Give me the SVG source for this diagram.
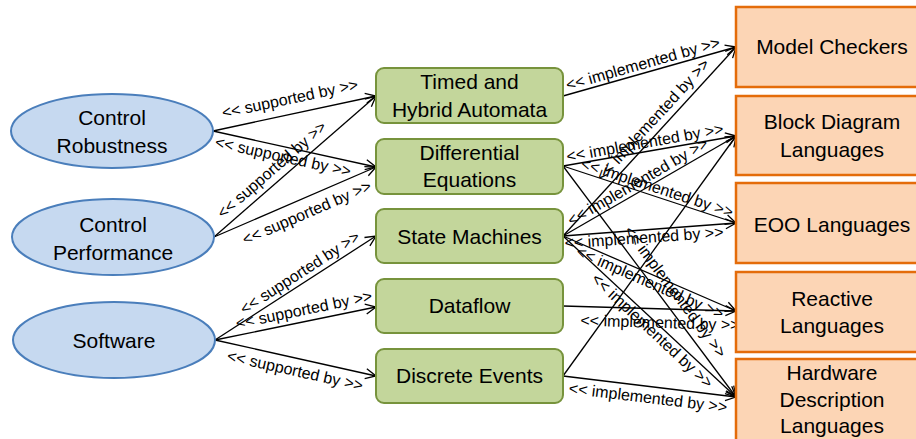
<svg xmlns="http://www.w3.org/2000/svg" width="916" height="439" viewBox="0 0 916 439">
<style>
.ell{fill:#c6d9f0;stroke:#4a7ebb;stroke-width:2}
.grn{fill:#c3d69b;stroke:#77933c;stroke-width:2}
.org{fill:#fcd5b5;stroke:#e46c0a;stroke-width:2.5}
.nt{font-family:"Liberation Sans",Arial,sans-serif;font-size:21px;fill:#000;text-anchor:middle}
.lb{font-family:"Liberation Sans",Arial,sans-serif;font-size:16px;fill:#000;text-anchor:middle}
.e{stroke:#000;stroke-width:1.3;fill:none;marker-end:url(#arr)}
</style>
<defs>
<marker id="arr" viewBox="0 0 12 12" refX="11.5" refY="6" markerWidth="12" markerHeight="12" markerUnits="userSpaceOnUse" orient="auto">
<path d="M1,1 L11.5,6 L1,11" fill="none" stroke="#000" stroke-width="1.3"/>
</marker>
</defs>
<rect width="916" height="439" fill="#fff"/>

<g id="connectors">
<line class="e" x1="213" y1="131" x2="376" y2="96"/>
<line class="e" x1="213" y1="131" x2="376" y2="167"/>
<line class="e" x1="214" y1="237" x2="376" y2="96"/>
<line class="e" x1="214" y1="237" x2="376" y2="167"/>
<line class="e" x1="215" y1="340" x2="376" y2="236"/>
<line class="e" x1="215" y1="340" x2="376" y2="307"/>
<line class="e" x1="215" y1="340" x2="376" y2="376"/>
<line class="e" x1="563" y1="96" x2="736" y2="47"/>
<line class="e" x1="563" y1="166" x2="736" y2="136"/>
<line class="e" x1="563" y1="166" x2="736" y2="223"/>
<line class="e" x1="563" y1="166" x2="736" y2="397"/>
<line class="e" x1="563" y1="236" x2="736" y2="47"/>
<line class="e" x1="563" y1="236" x2="736" y2="136"/>
<line class="e" x1="563" y1="236" x2="736" y2="223"/>
<line class="e" x1="563" y1="236" x2="736" y2="311"/>
<line class="e" x1="563" y1="236" x2="736" y2="397"/>
<line class="e" x1="563" y1="306" x2="736" y2="311"/>
<line class="e" x1="563" y1="376" x2="736" y2="136"/>
<line class="e" x1="563" y1="376" x2="736" y2="397"/>
<g class="lb">
<text transform="translate(290,99) rotate(-12)" y="5">&lt;&lt; supported by &gt;&gt;</text>
<text transform="translate(283,157) rotate(12.4)" y="5">&lt;&lt; supported by &gt;&gt;</text>
<text transform="translate(272,170) rotate(-41)" y="5">&lt;&lt; supported by &gt;&gt;</text>
<text transform="translate(307,213) rotate(-23.4)" y="5">&lt;&lt; supported by &gt;&gt;</text>
<text transform="translate(300,273) rotate(-32.9)" y="5">&lt;&lt; supported by &gt;&gt;</text>
<text transform="translate(304,310) rotate(-11.6)" y="5">&lt;&lt; supported by &gt;&gt;</text>
<text transform="translate(295,371) rotate(12.6)" y="5">&lt;&lt; supported by &gt;&gt;</text>
<text transform="translate(643,64) rotate(-15.8)" y="5">&lt;&lt; implemented by &gt;&gt;</text>
<text transform="translate(645,143) rotate(-10.2)" y="5">&lt;&lt; implemented by &gt;&gt;</text>
<text transform="translate(657,188) rotate(18.2)" y="5">&lt;&lt; implemented by &gt;&gt;</text>
<text transform="translate(675,292) rotate(53.2)" y="5">&lt;&lt; implemented by &gt;&gt;</text>
<text transform="translate(653,120) rotate(-47.4)" y="5">&lt;&lt; implemented by &gt;&gt;</text>
<text transform="translate(638,182) rotate(-30)" y="5">&lt;&lt; implemented by &gt;&gt;</text>
<text transform="translate(644,238) rotate(-4)" y="5">&lt;&lt; implemented by &gt;&gt;</text>
<text transform="translate(650,283) rotate(23.7)" y="5">&lt;&lt; implemented by &gt;&gt;</text>
<text transform="translate(652,331) rotate(43.1)" y="5">&lt;&lt; implemented by &gt;&gt;</text>
<text transform="translate(660,323) rotate(1.7)" y="5">&lt;&lt; implemented by &gt;&gt;</text>
<text transform="translate(648,398) rotate(6.9)" y="5">&lt;&lt; implemented by &gt;&gt;</text>
</g>
</g>

<g id="control-robustness">
<ellipse class="ell" cx="112" cy="131" rx="101" ry="37"/>
<text class="nt" x="112" y="125">Control</text>
<text class="nt" x="112" y="153">Robustness</text>
</g>
<g id="control-performance">
<ellipse class="ell" cx="113" cy="237" rx="101" ry="38"/>
<text class="nt" x="113" y="232">Control</text>
<text class="nt" x="113" y="260">Performance</text>
</g>
<g id="software">
<ellipse class="ell" cx="114" cy="340" rx="101" ry="38"/>
<text class="nt" x="114" y="348">Software</text>
</g>

<g id="timed-hybrid-automata">
<rect class="grn" x="376" y="68" width="187" height="55" rx="8"/>
<text class="nt" x="469.5" y="89">Timed and</text>
<text class="nt" x="469.5" y="117">Hybrid Automata</text>
</g>
<g id="differential-equations">
<rect class="grn" x="376" y="139" width="187" height="55" rx="8"/>
<text class="nt" x="469.5" y="160">Differential</text>
<text class="nt" x="469.5" y="187">Equations</text>
</g>
<g id="state-machines">
<rect class="grn" x="376" y="209" width="187" height="54" rx="8"/>
<text class="nt" x="469.5" y="244">State Machines</text>
</g>
<g id="dataflow">
<rect class="grn" x="376" y="279" width="187" height="54" rx="8"/>
<text class="nt" x="469.5" y="313">Dataflow</text>
</g>
<g id="discrete-events">
<rect class="grn" x="376" y="349" width="187" height="54" rx="8"/>
<text class="nt" x="469.5" y="383">Discrete Events</text>
</g>

<g id="model-checkers">
<rect class="org" x="736" y="7" width="192" height="80"/>
<text class="nt" x="832" y="54">Model Checkers</text>
</g>
<g id="block-diagram-languages">
<rect class="org" x="736" y="96" width="192" height="79"/>
<text class="nt" x="832" y="129">Block Diagram</text>
<text class="nt" x="832" y="157">Languages</text>
</g>
<g id="eoo-languages">
<rect class="org" x="736" y="183" width="192" height="80"/>
<text class="nt" x="832" y="232">EOO Languages</text>
</g>
<g id="reactive-languages">
<rect class="org" x="736" y="272" width="192" height="80"/>
<text class="nt" x="832" y="306">Reactive</text>
<text class="nt" x="832" y="333">Languages</text>
</g>
<g id="hardware-description-languages">
<rect class="org" x="736" y="359" width="192" height="82"/>
<text class="nt" x="832" y="380">Hardware</text>
<text class="nt" x="832" y="407">Description</text>
<text class="nt" x="832" y="433">Languages</text>
</g>
</svg>
